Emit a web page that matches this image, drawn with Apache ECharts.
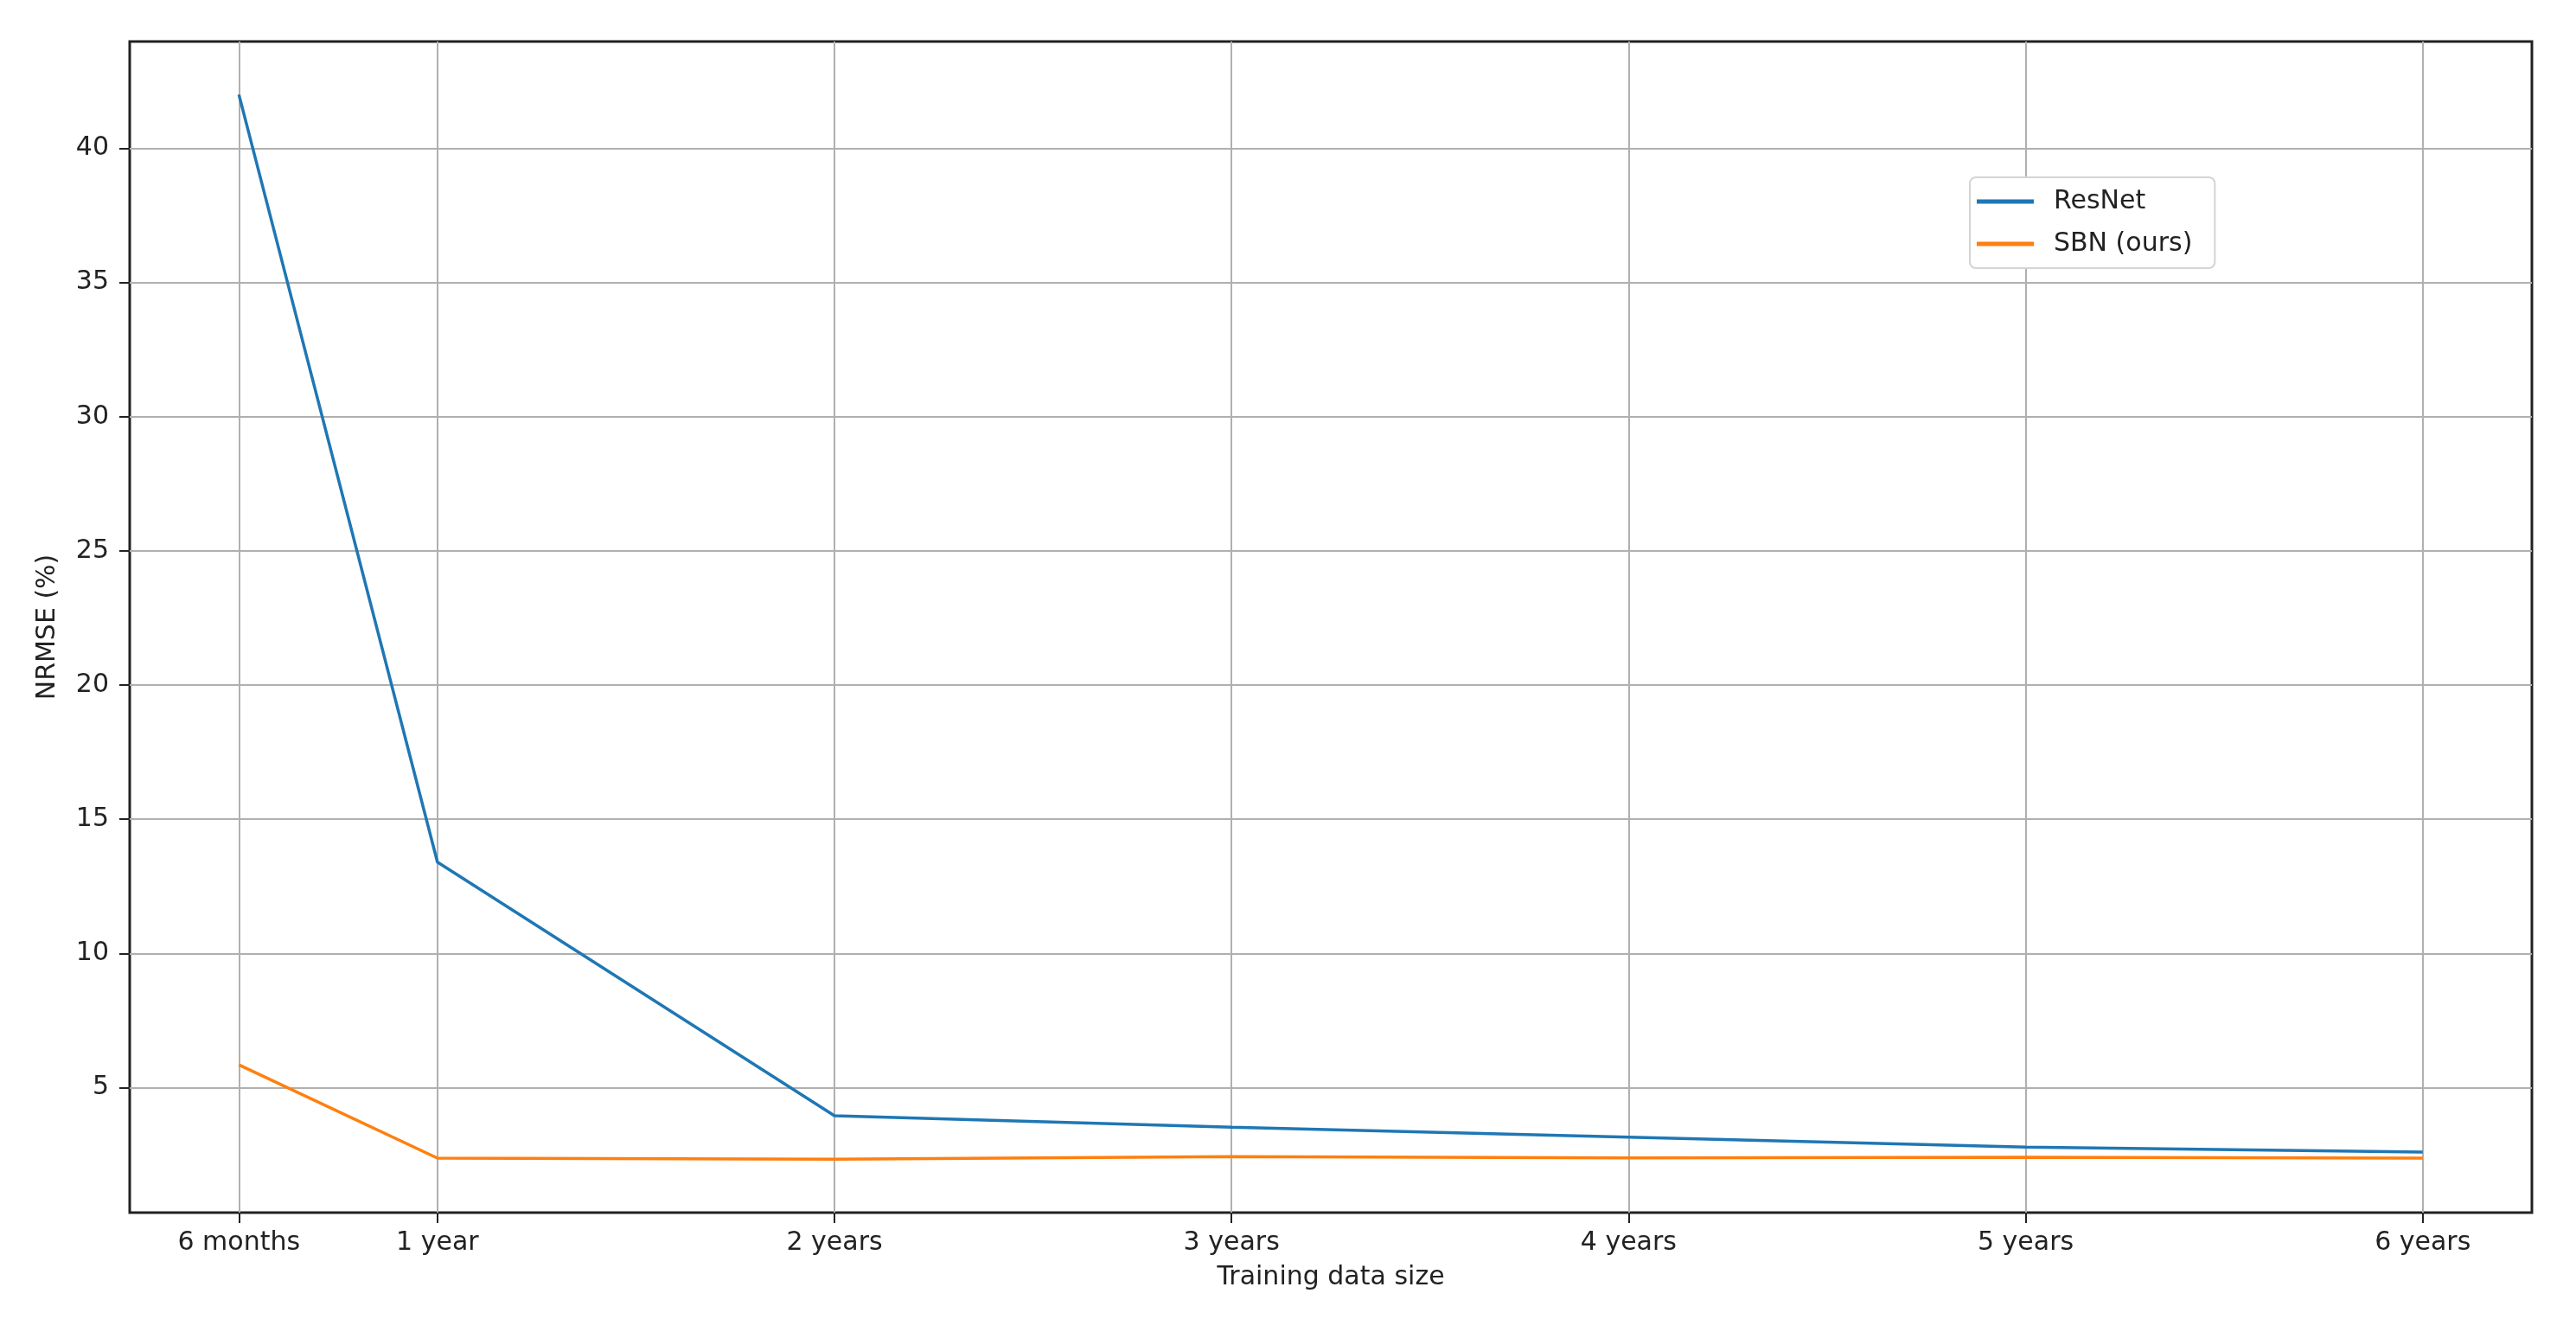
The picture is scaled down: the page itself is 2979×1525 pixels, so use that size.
<!DOCTYPE html>
<html>
<head>
<meta charset="utf-8">
<script src="https://cdn.jsdelivr.net/npm/echarts@6/dist/echarts.min.js"></script>
<style>
  html, body { margin: 0; padding: 0; background: #fff; }
  #chart { width: 2979px; height: 1525px; }
</style>
</head>
<body>
<div id="chart"></div>
<script>
// training data size in years, and the names shown under the ticks
const sizes = [0.5, 1, 2, 3, 4, 5, 6];
const sizeLabels = ['6 months', '1 year', '2 years', '3 years', '4 years', '5 years', '6 years'];

const resnet = [42.0, 13.4, 3.95, 3.52, 3.15, 2.78, 2.6];
const sbn = [5.85, 2.37, 2.33, 2.43, 2.38, 2.4, 2.37];

const yTicks = [5, 10, 15, 20, 25, 30, 35, 40];

const font = 'DejaVu Sans';
const ink = '#222';

const chartDom = document.getElementById('chart');
const myChart = echarts.init(chartDom);

const toPoints = vals => vals.map((v, i) => [sizes[i], v]);

const option = {
  animation: false,
  textStyle: { fontFamily: font },
  grid: {
    left: 150, right: 51, top: 48, bottom: 123,
    show: true, borderColor: ink, borderWidth: 3, backgroundColor: 'transparent'
  },
  legend: {
    left: 2278, top: 205,
    orient: 'vertical',
    backgroundColor: '#fff',
    borderColor: '#d4d4d4', borderWidth: 2, borderRadius: 7,
    padding: [12, 26, 12, 8],
    itemWidth: 66, itemHeight: 5, itemGap: 17,
    icon: 'rect',
    textStyle: { fontFamily: font, fontSize: 30, color: ink, padding: [0, 0, 0, 18], lineHeight: 32 },
    data: ['ResNet', 'SBN (ours)']
  },
  xAxis: {
    type: 'value',
    min: 0.225, max: 6.275,
    name: 'Training data size',
    nameLocation: 'middle', nameGap: 60,
    nameTextStyle: { fontFamily: font, fontSize: 30, color: ink },
    axisLine: { show: false },
    axisTick: { show: true, length: 12, customValues: sizes, lineStyle: { color: ink, width: 2 } },
    axisLabel: {
      customValues: sizes, margin: 20, fontFamily: font, fontSize: 30, color: ink,
      formatter: v => sizeLabels[sizes.indexOf(v)] || ''
    },
    splitLine: { show: true, lineStyle: { color: '#b0b0b0', width: 2 } }
  },
  yAxis: {
    type: 'value',
    min: 0.34, max: 43.98,
    name: 'NRMSE (%)',
    nameLocation: 'middle', nameGap: 80, nameRotate: 90,
    nameTextStyle: { fontFamily: font, fontSize: 30, color: ink },
    axisLine: { show: false },
    axisTick: { show: true, length: 12, customValues: yTicks, lineStyle: { color: ink, width: 2 } },
    axisLabel: { customValues: yTicks, margin: 24, fontFamily: font, fontSize: 30, color: ink },
    splitLine: { show: true, lineStyle: { color: '#b0b0b0', width: 2 } }
  },
  series: [
    {
      name: 'ResNet', type: 'line', data: toPoints(resnet),
      showSymbol: false, symbol: 'none',
      color: '#1f77b4', lineStyle: { width: 3.5 }
    },
    {
      name: 'SBN (ours)', type: 'line', data: toPoints(sbn),
      showSymbol: false, symbol: 'none',
      color: '#ff7f0e', lineStyle: { width: 3.5 }
    }
  ]
};

option && myChart.setOption(option);
</script>
</body>
</html>
